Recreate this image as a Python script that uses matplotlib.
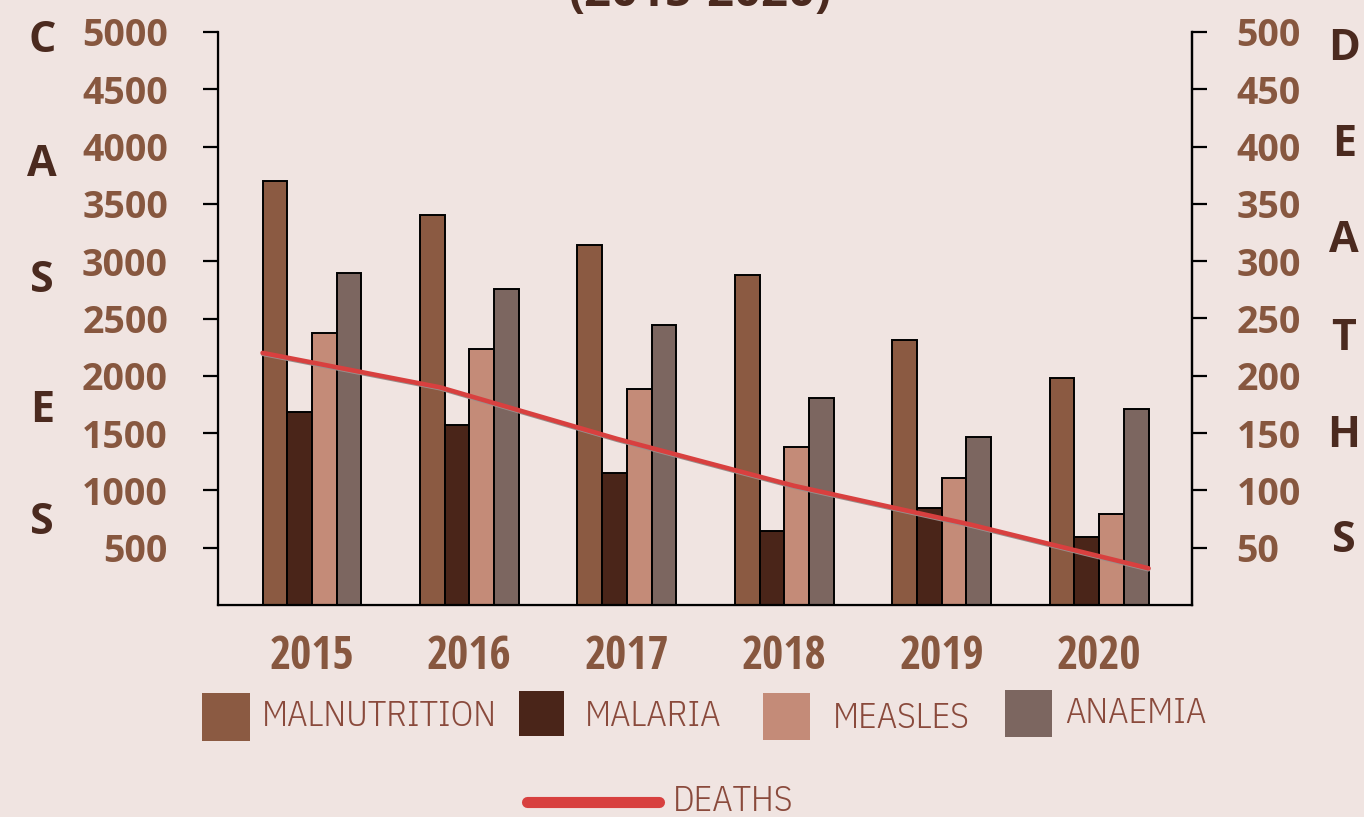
import numpy as np
import matplotlib
matplotlib.use("Agg")
import matplotlib.pyplot as plt
import matplotlib.transforms as mtransforms
from matplotlib import font_manager as fm
from matplotlib.patches import Rectangle
from matplotlib.lines import Line2D

# ---------------- data ----------------
years = ["2015", "2016", "2017", "2018", "2019", "2020"]
malnutrition = [3700, 3400, 3140, 2880, 2310, 1980]
malaria = [1680, 1570, 1150, 650, 850, 590]
measles = [2370, 2230, 1885, 1380, 1110, 795]
anaemia = [2900, 2760, 2440, 1805, 1465, 1710]
deaths = [220, 190, 145, 104, 70, 32]
series_names = ["MALNUTRITION", "MALARIA", "MEASLES", "ANAEMIA"]
left_ticks = [500, 1000, 1500, 2000, 2500, 3000, 3500, 4000, 4500, 5000]
right_ticks = [50, 100, 150, 200, 250, 300, 350, 400, 450, 500]

# ---------------- fonts ----------------
def font_by_file(fnames, fallback_family, weight="normal"):
    files = {f.fname.split("/")[-1]: f.fname for f in fm.fontManager.ttflist}
    for name in fnames:
        if name in files:
            return fm.FontProperties(fname=files[name])
    return fm.FontProperties(family=fallback_family, weight=weight)

def fp(base, size):
    p = base.copy()
    p.set_size(size)
    return p

COND_BOLD = font_by_file(["OpenSans-CondBold.ttf"], "Open Sans", "bold")
COND_LIGHT = font_by_file(["IBMPlexSansCondensed-Light.ttf",
                           "OpenSans-CondLight.ttf"], "Lato")
OS_BOLD = fm.FontProperties(family="Open Sans", weight="bold")

# ---------------- style ----------------
W, H = 1364, 817
BG = "#f0e4e1"
COLORS = ["#8b5a42", "#4a2519", "#c48b78", "#7c6660"]
TICK_C = "#87573f"
DARK = "#4b2a1f"
LEG_C = "#8a4a3c"
RED = "#d8403f"

fig = plt.figure(figsize=(W / 100, H / 100), dpi=100, facecolor=BG)

def fx(px):
    return px / W

def fy(py):
    return 1 - py / H

ax = fig.add_axes([fx(218), fy(605), fx(1192) - fx(218), fy(32) - fy(605)])
ax.set_facecolor("none")
x = np.arange(len(years))
w = 0.157
all_series = [malnutrition, malaria, measles, anaemia]
for i, (vals, c) in enumerate(zip(all_series, COLORS)):
    ax.bar(x + (i - 1.5) * w, vals, w, color=c, edgecolor="black",
           linewidth=1.4, zorder=2)

ax.set_xlim(-0.597, 5.59)
ax.set_ylim(0, 5000)
ax.set_yticks(left_ticks)
ax.set_yticklabels([str(t) for t in left_ticks], fontproperties=fp(OS_BOLD, 27),
                   color=TICK_C)
ax.tick_params(axis="y", direction="out", length=11, width=1.6,
               color="black", pad=25)
ax.set_xticks(x)
ax.set_xticklabels(years, fontproperties=fp(COND_BOLD, 33), color=TICK_C)
ax.tick_params(axis="x", length=0, pad=20)
ax.spines["top"].set_visible(False)
for s in ["left", "bottom", "right"]:
    ax.spines[s].set_linewidth(1.6)
    ax.spines[s].set_color("black")

ax2 = ax.twinx()
ax2.set_ylim(0, 500)
ax2.set_yticks(right_ticks)
ax2.set_yticklabels([str(t) for t in right_ticks], fontproperties=fp(OS_BOLD, 27),
                    color=TICK_C)
ax2.tick_params(axis="y", direction="out", length=11, width=1.6,
                color="black", pad=21)
ax2.spines["top"].set_visible(False)
ax2.spines["right"].set_linewidth(1.6)

x_line = np.linspace(x[0] - 2 * w, x[-1] + 2 * w, len(deaths))
shadow = mtransforms.offset_copy(ax2.transData, fig=fig, x=0, y=-1.5,
                                 units="dots")
ax2.plot(x_line, deaths, color="#9a8f8c", lw=2.5, transform=shadow,
         zorder=3, solid_capstyle="round")
ax2.plot(x_line, deaths, color=RED, lw=3.3, zorder=4,
         solid_capstyle="round", solid_joinstyle="round")

# side letters
for ch, py in zip("CASES", [40, 165, 280, 410, 522]):
    fig.text(fx(42), fy(py), ch, ha="center", va="center",
             fontproperties=fp(OS_BOLD, 31), color=DARK)
for ch, py in zip("DEATHS", [48, 145, 240, 338, 435, 540]):
    fig.text(fx(1344), fy(py), ch, ha="center", va="center",
             fontproperties=fp(OS_BOLD, 31), color=DARK)

# cropped title
fig.text(0.513, fy(6), "(2015-2020)", ha="center", va="baseline",
         fontproperties=fp(OS_BOLD, 34), color=DARK)

# legend
leg_boxes = [(202, 693, 48), (519, 691, 45), (763, 693, 47), (1005, 690, 47)]
leg_text = [(262, 716), (585, 716), (833, 718), (1065, 713)]
for name, c, (bx, by, bs), (tx, ty) in zip(series_names, COLORS, leg_boxes, leg_text):
    fig.patches.append(Rectangle((fx(bx), fy(by + bs)), fx(bs), bs / H,
                                 transform=fig.transFigure, facecolor=c,
                                 edgecolor="none"))
    fig.text(fx(tx), fy(ty), name, ha="left", va="center",
             fontproperties=fp(COND_LIGHT, 26), color=LEG_C)

fig.lines.append(Line2D([fx(527), fx(659)], [fy(802), fy(802)],
                        transform=fig.transFigure, color=RED, lw=8,
                        solid_capstyle="round"))
fig.text(fx(673), fy(801), "DEATHS", ha="left", va="center",
         fontproperties=fp(COND_LIGHT, 26), color=LEG_C)

fig.savefig("out.png", dpi=100, facecolor=BG)
